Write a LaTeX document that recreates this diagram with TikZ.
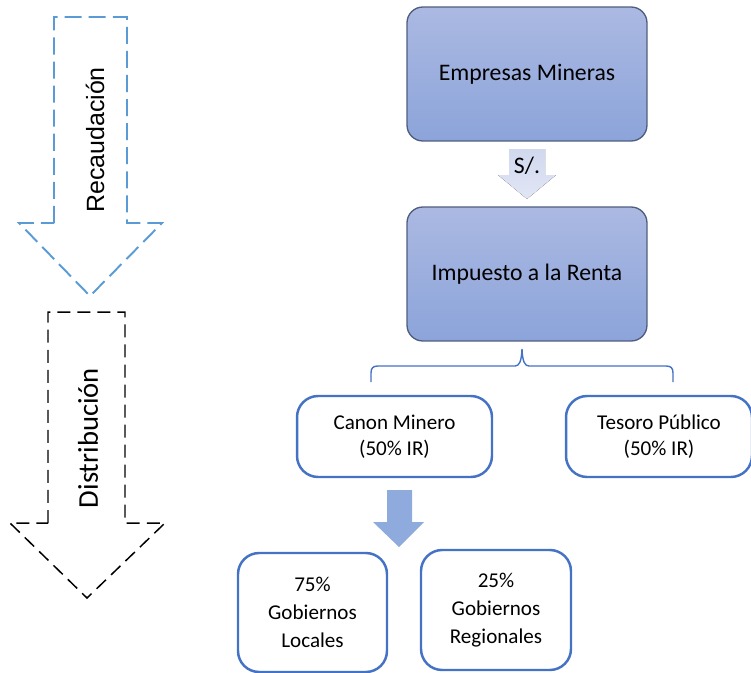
\documentclass[tikz,border=0pt]{standalone}
\usepackage{fontspec}
\setmainfont{Carlito}
\newfontfamily\arialfont{Liberation Sans}
\usepackage{tikz}
\definecolor{cajaazul}{HTML}{4472C4}
\definecolor{flechaazul}{HTML}{5B9BD5}
\definecolor{grisazul}{HTML}{4E5D7E}
\definecolor{sombraarr}{HTML}{ABB9E2}
\definecolor{sombraabj}{HTML}{8CA4DA}
\definecolor{flechasol}{HTML}{8FAADC}

\begin{document}
\begin{tikzpicture}[x=0.02cm,y=-0.02cm,
	entidad/.style={draw=grisazul,line width=0.75pt,rounded corners=9pt,
		top color=sombraarr,bottom color=sombraabj,
		minimum width=4.8cm,minimum height=2.68cm,
		font=\fontsize{13.5}{16}\selectfont},
	caja/.style={draw=cajaazul,line width=1.4pt,rounded corners=12pt,fill=white,
		align=center,font=\fontsize{12}{14.8}\selectfont},
	cajagob/.style={caja,font=\fontsize{12}{16}\selectfont}]
	\useasboundingbox (0,0) rectangle (751,673);
	% flechas laterales
	\draw[flechaazul,line width=1.1pt,dash pattern=on 9.7pt off 4pt]
		(54,223) -- (54,17) -- (127,17) -- (127,223) -- (162,223) -- (90,296) -- (19,223) -- cycle;
	\node[rotate=90,font=\arialfont\fontsize{14.2}{16}\selectfont] (recaudacion) at (95,140) {Recaudación};
	\draw[black,line width=0.85pt,dash pattern=on 7.4pt off 4pt]
		(48,523) -- (48,312) -- (125,312) -- (125,523) -- (165,523) -- (87,598) -- (10,523) -- cycle;
	\node[rotate=90,font=\fontsize{16.3}{18}\selectfont] (distribucion) at (88,438) {Distribución};
	% cajas
	\node[entidad] (mineras) at (527,74) {Empresas Mineras};
	\node[entidad] (renta) at (527,274) {Impuesto a la Renta};
	\node[caja,minimum width=3.9cm,minimum height=1.62cm] (canon) at (394.5,436.5) {Canon Minero\\(50\% IR)};
	\node[caja,minimum width=3.72cm,minimum height=1.62cm] (tesoro) at (659,436.5) {Tesoro Público\\(50\% IR)};
	\node[cajagob,minimum width=2.98cm,minimum height=2.38cm] (locales) at (312.5,612.5) {75\%\\Gobiernos\\Locales};
	\node[cajagob,minimum width=3cm,minimum height=2.4cm] (regionales) at (496,610) {25\%\\Gobiernos\\Regionales};
	% flecha S/.
	\fill[top color=sombraarr!55,bottom color=sombraarr!35,shading angle=0]
		(509,149) -- (545,149) -- (545,175) -- (556,175) -- (527,199) -- (498,175) -- (509,175) -- cycle;
	\node[font=\fontsize{13.5}{16}\selectfont] (soles) at (527,166) {S/.};
	% llave
	\coordinate (llaveizq) at (371,382);
	\coordinate (llaveder) at (673,382);
	\coordinate (llavepunta) at (522,349);
	\draw[cajaazul,line width=0.8pt] (llaveizq) -- (371,373)
		.. controls (371,368) and (373,366) .. (378,366) -- (515,366)
		.. controls (519,366) and (521.5,362) .. (llavepunta)
		.. controls (522.5,362) and (525,366) .. (529,366) -- (666,366)
		.. controls (671,366) and (673,368) .. (673,373) -- (llaveder);
	% flecha al canon
	\fill[flechasol] (387,490) -- (412,490) -- (412,522) -- (424,522) -- (399,547) -- (373,522) -- (387,522) -- cycle;
\end{tikzpicture}
\end{document}
